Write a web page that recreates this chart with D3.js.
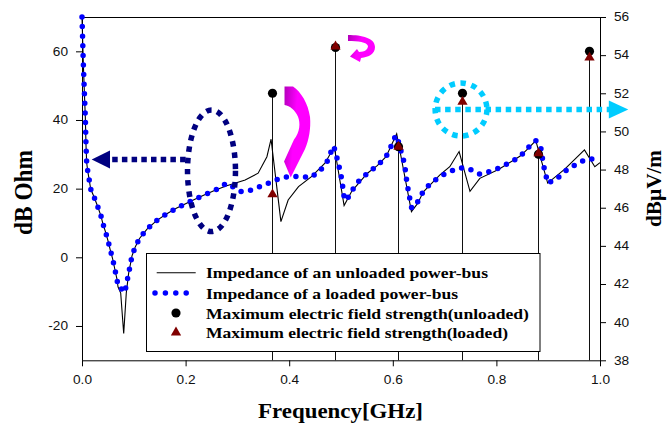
<!DOCTYPE html>
<html><head><meta charset="utf-8">
<script src="https://cdn.jsdelivr.net/npm/d3@7"></script>
<style>
html,body{margin:0;padding:0;background:#fff;}
svg{display:block;}
</style></head><body>
<svg id="chart" width="667" height="423"></svg>
<script>
// ---------- data ----------
const unloadedFreq = [0,0.0025,0.0044,0.0064,0.0077,0.009,0.011,0.014,0.0168,0.0237,0.0303,0.0367,0.0405,0.0458,0.0508,0.0546,0.0593,0.0637,0.0676,0.0695,0.0747,0.0805,0.0855,0.090,0.0932,0.0965,0.103,0.111,0.1255,0.144,0.163,0.182,0.201,0.222,0.239,0.258,0.278,0.315,0.340,0.357,0.365,0.384,0.398,0.418,0.443,0.469,0.487,0.506,0.521,0.551,0.570,0.587,0.6075,0.636,0.648,0.659,0.691,0.710,0.728,0.749,0.768,0.804,0.846,0.862,0.876,0.899,0.932,0.970,0.990,1.0];
const unloadedImp  = [70,56.7,48.8,40.9,32.8,27.6,25.2,22.5,19.9,17.4,14.8,12.0,9.7,7.2,4.5,2.1,-0.5,-3.7,-6.4,-8.6,-10.4,-22.2,-10.4,-4.7,-2.2,0.4,3.1,5.5,8.2,10.7,12.6,14.3,15.7,17.2,18.4,19.6,20.8,22.5,24.5,29.3,34.4,10.4,16.7,20.6,23.5,27.4,32.2,15.1,19.3,24.5,26.7,29.3,36.0,13.3,15.7,19.1,24.0,26.4,30.8,19.2,23.0,25.6,29.5,31.8,34.0,21.6,25.7,31.3,26.4,27.6];
const loadedFreq = [0,0.0025,0.0044,0.0064,0.0077,0.009,0.011,0.014,0.0168,0.0237,0.0303,0.0367,0.0405,0.0458,0.0508,0.0546,0.0593,0.0637,0.0676,0.0695,0.0759,0.0824,0.0855,0.090,0.0932,0.0965,0.103,0.111,0.1255,0.144,0.163,0.182,0.201,0.222,0.239,0.258,0.279,0.308,0.328,0.347,0.366,0.3855,0.404,0.423,0.442,0.461,0.474,0.481,0.486,0.4917,0.495,0.4994,0.5025,0.5045,0.507,0.511,0.5207,0.533,0.551,0.570,0.587,0.596,0.603,0.6075,0.617,0.622,0.625,0.627,0.630,0.633,0.6365,0.648,0.657,0.672,0.691,0.710,0.730,0.748,0.768,0.788,0.807,0.826,0.8456,0.8616,0.876,0.8855,0.891,0.895,0.899,0.915,0.934,0.954,0.973,0.996];
const loadedImp  = [70,56.7,48.8,40.9,32.8,27.6,25.2,22.5,19.9,17.4,14.8,12.0,9.7,7.2,4.5,2.1,-0.5,-3.7,-6.4,-8.6,-9.2,-10.3,-8.1,-4.7,-2.2,0.4,3.1,5.5,8.2,10.7,12.6,14.3,15.7,17.2,18.4,19.6,21.6,19.1,19.6,20.8,22.0,23.2,23.6,23.5,23.2,25.5,28.1,30.8,32.4,29.3,27.2,24.5,21.6,19.1,16.7,16.7,19.3,22.0,24.5,26.7,29.3,32.1,34.7,35.5,30.3,27.6,24.7,22.0,19.4,16.9,14.3,16.2,18.7,21.4,23.5,25.0,26.1,25.7,24.2,25.0,26.1,27.6,29.3,32.0,34.0,32.1,26.8,24.3,21.6,22.7,25.2,27.1,28.6,28.7];
const stemFreq      = [0.367,0.488,0.611,0.733,0.881,0.978];
const fieldUnloaded = [52.0,54.4,49.2,52.0,48.8,54.2];
const fieldLoaded   = [46.7,54.45,49.2,51.55,48.85,53.87];
const leftTicks   = [-20,0,20,40,60];
const rightTicks  = [38,40,42,44,46,48,50,52,54,56];
const freqTicks   = [0,0.2,0.4,0.6,0.8,1.0];
const legendLabels = ["Impedance of an unloaded power-bus","Impedance of a loaded power-bus","Maximum electric field strength(unloaded)","Maximum electric field strength(loaded)"];

// ---------- setup ----------
const svg = d3.select('#chart');
const L=82, R=600, T=17, B=360.3;
const x  = d3.scaleLinear().domain([0,1]).range([L,R]);
const yL = d3.scaleLinear().domain([-30,70]).range([B,T]);
const yR = d3.scaleLinear().domain([38,56]).range([B,T]);
const SX = 1.14;
const sans = "'Liberation Sans', Arial, Helvetica, sans-serif";
const serif = "'Liberation Serif', 'Times New Roman', Times, serif";

const defs = svg.append('defs');
const grad = defs.append('linearGradient').attr('id','mag').attr('x1',0).attr('y1',0).attr('x2',1).attr('y2',0.3);
grad.append('stop').attr('offset','0').attr('stop-color','#b000b8');
grad.append('stop').attr('offset','0.5').attr('stop-color','#ff00ff');
grad.append('stop').attr('offset','1').attr('stop-color','#ff00ff');

// frame top
svg.append('line').attr('x1',L).attr('x2',R).attr('y1',T+0.5).attr('y2',T+0.5).attr('stroke','#000').attr('stroke-width',1);

function styleAxis(g){
  g.select('.domain').attr('stroke','#000');
  g.selectAll('.tick line').attr('stroke','#000');
  g.selectAll('.tick text').attr('font-family',sans).attr('font-size',12).attr('fill','#111')
    .each(function(){ const t=d3.select(this); const tx=+t.attr('x')||0;
      t.attr('transform',`translate(${tx},0) scale(${SX},1) translate(${-tx},0)`); });
}
const gL = svg.append('g').attr('transform',`translate(${L},0)`)
  .call(d3.axisLeft(yL).tickValues(leftTicks).tickSize(6).tickSizeOuter(0).tickPadding(8).tickFormat(d=>String(d)));
styleAxis(gL);
const gR = svg.append('g').attr('transform',`translate(${R},0)`)
  .call(d3.axisRight(yR).tickValues(rightTicks).tickSize(6).tickSizeOuter(0).tickPadding(8).tickFormat(d=>String(d)));
styleAxis(gR);
const gB = svg.append('g').attr('transform',`translate(0,${B})`)
  .call(d3.axisBottom(x).tickValues(freqTicks).tickSize(6).tickSizeOuter(0).tickPadding(9).tickFormat(d3.format('.1f')));
styleAxis(gB);

// axis titles
svg.append('text').text('Frequency[GHz]').attr('x',258).attr('y',418.3)
  .attr('font-family',serif).attr('font-weight','bold').attr('font-size',20.5)
  .attr('textLength',165).attr('lengthAdjust','spacingAndGlyphs').attr('fill','#000');
svg.append('text').text('dB Ohm').attr('text-anchor','middle')
  .attr('transform',`translate(31.5,192.5) scale(1.16,1) rotate(-90)`)
  .attr('font-family',serif).attr('font-weight','bold').attr('font-size',22.5)
  .attr('textLength',85).attr('lengthAdjust','spacingAndGlyphs').attr('fill','#000');
svg.append('text').text('dBµV/m').attr('text-anchor','middle')
  .attr('transform',`translate(660.5,188.5) rotate(-90)`)
  .attr('font-family',serif).attr('font-weight','bold').attr('font-size',21.5)
  .attr('textLength',77).attr('lengthAdjust','spacingAndGlyphs').attr('fill','#000');

// stems
const stems = stemFreq.map((f,i)=>({f, u:fieldUnloaded[i], l:fieldLoaded[i]}));
svg.append('g').selectAll('line').data(stems).join('line')
  .attr('x1',d=>Math.round(x(d.f))+0.5).attr('x2',d=>Math.round(x(d.f))+0.5)
  .attr('y1',yR(38)).attr('y2',d=>yR(Math.max(d.u,d.l)))
  .attr('stroke','#111').attr('stroke-width',1);

// impedance lines
const line = d3.line().x(d=>x(d[0])).y(d=>yL(d[1]));
const unl = unloadedFreq.map((f,i)=>[f,unloadedImp[i]]);
const lod = loadedFreq.map((f,i)=>[f,loadedImp[i]]);
svg.append('path').datum(unl).attr('d',line).attr('fill','none').attr('stroke','#000').attr('stroke-width',1.1);
svg.append('path').datum(lod).attr('d',line).attr('fill','none').attr('stroke','#0000ff')
  .attr('stroke-width',5.5).attr('stroke-linecap','round').attr('stroke-linejoin','round').attr('stroke-dasharray','0 9.6');

// markers
const circ = d3.symbol(d3.symbolCircle, 66);
const tri = d3.symbol(d3.symbolTriangle, 46);
svg.append('g').selectAll('path').data(stems).join('path')
  .attr('d',circ).attr('transform',d=>`translate(${Math.round(x(d.f))+0.5},${yR(d.u)})`).attr('fill','#000');
svg.append('g').selectAll('path').data(stems).join('path')
  .attr('d',tri).attr('transform',d=>`translate(${Math.round(x(d.f))+0.5},${yR(d.l)})`).attr('fill','#800000');

// annotations
const navy='#000080', cyan='#00ccff';
// navy ellipse + arrow
const eC=[0.25,25.2], eRx=0.0463, eRy=17.7;
svg.append('ellipse').attr('cx',x(eC[0])).attr('cy',yL(eC[1]))
  .attr('rx',x(eC[0]+eRx)-x(eC[0])).attr('ry',yL(eC[1])-yL(eC[1]+eRy))
  .attr('fill','none').attr('stroke',navy).attr('stroke-width',5.5).attr('stroke-dasharray','5.5 5.8');
const nav=[0.2,0.054,0.0187,28.5];
svg.append('line').attr('x1',x(nav[0])).attr('x2',x(nav[1])+2).attr('y1',yL(nav[3])).attr('y2',yL(nav[3]))
  .attr('stroke',navy).attr('stroke-width',5.5).attr('stroke-dasharray','5.5 4.2');
svg.append('path').attr('d',`M${x(nav[2])},${yL(nav[3])} L${x(nav[1])},${yL(nav[3])-9} L${x(nav[1])},${yL(nav[3])+9} Z`).attr('fill',navy);
// cyan circle + arrow
const cC=[0.7317,51.15], cRx=0.05, cRy=1.39;
svg.append('ellipse').attr('cx',x(cC[0])).attr('cy',yR(cC[1]))
  .attr('rx',x(cC[0]+cRx)-x(cC[0])).attr('ry',yR(cC[1])-yR(cC[1]+cRy))
  .attr('fill','none').attr('stroke',cyan).attr('stroke-width',5.5).attr('stroke-dasharray','5.5 5.6');
const cya=[0.6815,1.019,1.0546,51.15];
svg.append('line').attr('x1',x(cya[0])).attr('x2',x(cya[1])).attr('y1',yR(cya[3])).attr('y2',yR(cya[3]))
  .attr('stroke',cyan).attr('stroke-width',5.5).attr('stroke-dasharray','5.5 4.6');
svg.append('path').attr('d',`M${x(cya[2])},${yR(cya[3])} L${x(cya[1])-1},${yR(cya[3])-9} L${x(cya[1])-1},${yR(cya[3])+9} Z`).attr('fill',cyan);
// magenta curved arrows
const bigA=[0.39,50.2], smallA=[0.5135,64.75];
svg.append('path').attr('transform',`translate(${x(bigA[0])},${yL(bigA[1])})`)
  .attr('d','M0.5,1.5 L9,1.5 C17,7 24,18 26,32 C27,43 25,55 21,64 L6.7,92.5 L0,76.5 L10,54.5 C16,47 16.5,38 14,31.7 C11,25 6,21 0.5,20 Z')
  .attr('fill','url(#mag)');
svg.append('path').attr('transform',`translate(${x(smallA[0])},${yL(smallA[1])})`)
  .attr('d','M0,0 C14,0 27,3 27,12 C27,19 21,22 13,23 L12,27 L2,21.5 L9,14 L11,17 C17,17 20,14 20,11 C19,7 10,6 0,6 Z')
  .attr('fill','url(#mag)');

// legend
const lg = svg.append('g');
lg.append('rect').attr('x',146.5).attr('y',253.5).attr('width',393.5).attr('height',98)
  .attr('fill','#fff').attr('stroke','#000').attr('stroke-width',1);
const rowY=[278,298.5,318.5,338], rowW=[282,252,323,302];
lg.append('line').attr('x1',156.7).attr('x2',195.7).attr('y1',272.7).attr('y2',272.7).attr('stroke','#000').attr('stroke-width',1.1);
lg.append('line').attr('x1',155).attr('x2',187).attr('y1',293).attr('y2',293).attr('stroke','#0000ff')
  .attr('stroke-width',5.5).attr('stroke-linecap','round').attr('stroke-dasharray','0 10.4');
lg.append('path').attr('d',circ).attr('transform','translate(176,313)').attr('fill','#000');
lg.append('path').attr('d',tri).attr('transform','translate(176,332.5)').attr('fill','#800000');
lg.selectAll('text').data(legendLabels).join('text')
  .attr('x',206).attr('y',(d,i)=>rowY[i]).text(d=>d)
  .attr('font-family',serif).attr('font-weight','bold').attr('font-size',15).attr('fill','#000')
  .attr('textLength',(d,i)=>rowW[i]).attr('lengthAdjust','spacingAndGlyphs');
</script>
</body></html>
